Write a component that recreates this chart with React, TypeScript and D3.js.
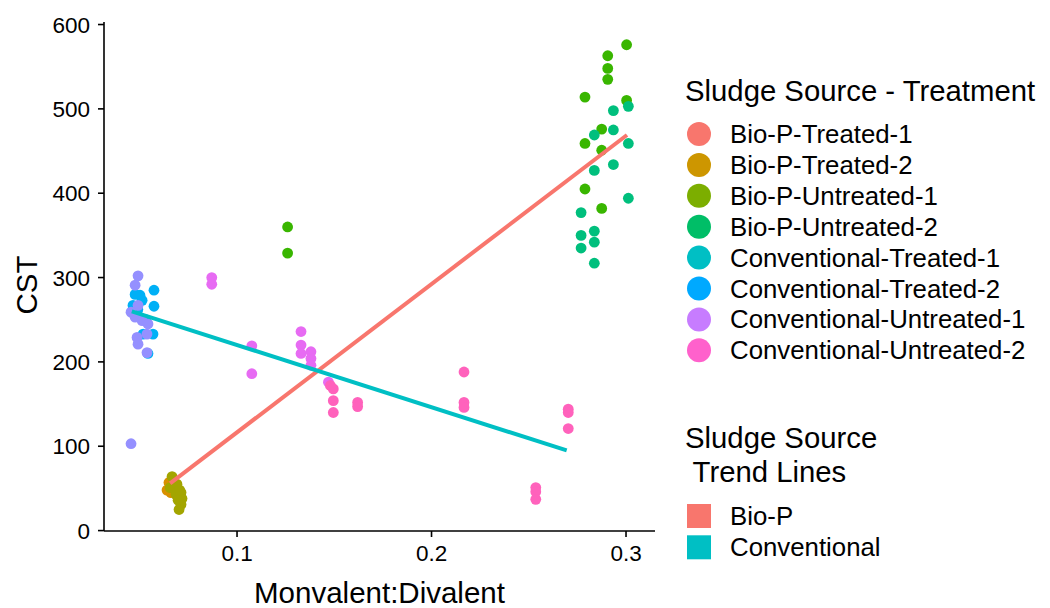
import React from "react";
import * as d3 from "d3";

// ---- data: Monvalent:Divalent ratio (x) vs CST (y) ----
type Pt = [number, number];

const bioPTreatedA: Pt[] = [
  [0.064, 48], [0.065, 57], [0.066, 45], [0.0665, 52],
];
const bioPTreatedB: Pt[] = [
  [0.0666, 64], [0.0656, 51], [0.0691, 55], [0.0712, 45], [0.0717, 38],
  [0.0712, 31], [0.0702, 25], [0.0686, 43], [0.0697, 36], [0.0705, 48],
];
const bioPUntreatedA: Pt[] = [
  [0.126, 360], [0.126, 329], [0.3003, 576], [0.2906, 563], [0.2906, 548],
  [0.2906, 535], [0.2789, 514], [0.3003, 510], [0.2875, 476], [0.2789, 459],
  [0.2875, 451], [0.2789, 405], [0.2875, 382],
];
const bioPUntreatedB: Pt[] = [
  [0.2935, 498], [0.3012, 503], [0.2935, 475], [0.2837, 469], [0.3012, 459],
  [0.2935, 434], [0.2837, 427], [0.3012, 394], [0.2769, 377], [0.2769, 350],
  [0.2837, 355], [0.2837, 342], [0.2769, 335], [0.2837, 317],
];
const convTreated: Pt[] = [
  [0.0476, 280], [0.0501, 279], [0.0573, 285], [0.0512, 273], [0.0465, 267],
  [0.0573, 266], [0.0568, 233], [0.0517, 233], [0.0542, 210], [0.049, 262],
  [0.053, 250],
];
const convUntreatedA: Pt[] = [
  [0.0491, 302], [0.0476, 291], [0.0491, 267], [0.0455, 259], [0.0476, 253],
  [0.0512, 249], [0.0542, 245], [0.0537, 233], [0.0486, 229], [0.0491, 221],
  [0.0537, 211], [0.0455, 103],
];
const convUntreatedB: Pt[] = [
  [0.087, 300], [0.087, 292], [0.1076, 219], [0.1076, 186], [0.1329, 236],
  [0.1329, 220], [0.1329, 210], [0.138, 212], [0.138, 204], [0.138, 196],
  [0.147, 176],
];
const convUntreatedC: Pt[] = [
  [0.148, 172], [0.1495, 168], [0.1495, 154], [0.1495, 140], [0.162, 152],
  [0.162, 147], [0.2167, 188], [0.2167, 152], [0.2167, 146], [0.2703, 144],
  [0.2703, 140], [0.2703, 121], [0.2536, 51], [0.2536, 46], [0.2536, 37],
];

// point layers in draw order, with their fill colours
const pointLayers: { pts: Pt[]; color: string }[] = [
  { pts: bioPTreatedA, color: "#D89000" },
  { pts: bioPTreatedB, color: "#A3A500" },
  { pts: bioPUntreatedA, color: "#39B600" },
  { pts: bioPUntreatedB, color: "#00BF7D" },
  { pts: convTreated, color: "#00B0F6" },
  { pts: convUntreatedA, color: "#9590FF" },
  { pts: convUntreatedB, color: "#E76BF3" },
  { pts: convUntreatedC, color: "#FF62BC" },
];

// fitted trend lines (endpoints of each source's linear fit)
const trendBioP: Pt[] = [[0.0656, 56], [0.3005, 469]];
const trendConventional: Pt[] = [[0.0459, 260], [0.2695, 95]];

// legends
const treatmentLabels = [
  "Bio-P-Treated-1", "Bio-P-Treated-2", "Bio-P-Untreated-1", "Bio-P-Untreated-2",
  "Conventional-Treated-1", "Conventional-Treated-2",
  "Conventional-Untreated-1", "Conventional-Untreated-2",
];
const treatmentColors = [
  "#F8766D", "#CD9600", "#7CAE00", "#00BE67",
  "#00BFC4", "#00A9FF", "#C77CFF", "#FF61CC",
];
const trendLabels = ["Bio-P", "Conventional"];
const trendColors = ["#F8766D", "#00BFC4"];

const xTicks = [0.1, 0.2, 0.3];
const yTicks = [0, 100, 200, 300, 400, 500, 600];

const FONT = "'Liberation Sans', Arial, sans-serif";

export default function App() {
  const panel = { left: 104, right: 655, top: 22, bottom: 531 };
  const x = d3.scaleLinear().domain([0.0316, 0.3149]).range([panel.left, panel.right]);
  const y = d3.scaleLinear().domain([-0.5, 603]).range([panel.bottom, panel.top]);
  const line = d3.line<Pt>().x((d) => x(d[0])).y((d) => y(d[1]));

  return (
    <svg
      width={1050}
      height={608}
      style={{ position: "absolute", left: 0, top: 0, background: "#fff" }}
      fontFamily={FONT}
    >
      {/* points */}
      {pointLayers.map((layer, i) => (
        <g key={i} fill={layer.color}>
          {layer.pts.map((p, j) => (
            <circle key={j} cx={x(p[0])} cy={y(p[1])} r={5.4} />
          ))}
        </g>
      ))}

      {/* trend lines */}
      <path d={line(trendBioP) ?? ""} stroke={trendColors[0]} strokeWidth={4} fill="none" />
      <path d={line(trendConventional) ?? ""} stroke={trendColors[1]} strokeWidth={4} fill="none" />

      {/* axes */}
      <line x1={panel.left} x2={panel.right} y1={panel.bottom} y2={panel.bottom} stroke="#000" strokeWidth={1.6} />
      <line x1={panel.left} x2={panel.left} y1={panel.top} y2={panel.bottom} stroke="#000" strokeWidth={1.6} />
      {xTicks.map((t) => (
        <g key={t}>
          <line x1={x(t)} x2={x(t)} y1={panel.bottom} y2={panel.bottom + 6} stroke="#000" strokeWidth={1.6} />
          <text x={x(t)} y={561} fontSize={22.5} textAnchor="middle" fill="#000">
            {d3.format(".1f")(t)}
          </text>
        </g>
      ))}
      {yTicks.map((t) => (
        <g key={t}>
          <line x1={panel.left - 6} x2={panel.left} y1={y(t)} y2={y(t)} stroke="#000" strokeWidth={1.6} />
          <text x={90} y={y(t) + 8} fontSize={22.5} textAnchor="end" fill="#000">
            {t}
          </text>
        </g>
      ))}

      {/* axis titles */}
      <text x={(panel.left + panel.right) / 2} y={603} fontSize={29.5} textAnchor="middle" fill="#000">
        Monvalent:Divalent
      </text>
      <text transform="translate(37,285) rotate(-90)" fontSize={29.5} textAnchor="middle" fill="#000">
        CST
      </text>

      {/* treatment legend */}
      <text x={685} y={101} fontSize={29.3} fill="#000">Sludge Source - Treatment</text>
      {treatmentLabels.map((lab, i) => {
        const cy = 134 + i * 30.9;
        return (
          <g key={lab}>
            <circle cx={699} cy={cy} r={12} fill={treatmentColors[i]} />
            <text x={730} y={cy + 9} fontSize={25.8} fill="#000">{lab}</text>
          </g>
        );
      })}

      {/* trend legend */}
      <text x={685} y={448} fontSize={29.3} fill="#000">Sludge Source</text>
      <text x={685} y={482} fontSize={29.3} fill="#000" style={{ whiteSpace: "pre" }}>{" Trend Lines"}</text>
      {trendLabels.map((lab, i) => {
        const cy = 516 + i * 31.3;
        return (
          <g key={lab}>
            <rect x={687} y={cy - 12} width={24} height={24} fill={trendColors[i]} />
            <text x={730} y={cy + 9} fontSize={25.8} fill="#000">{lab}</text>
          </g>
        );
      })}
    </svg>
  );
}
